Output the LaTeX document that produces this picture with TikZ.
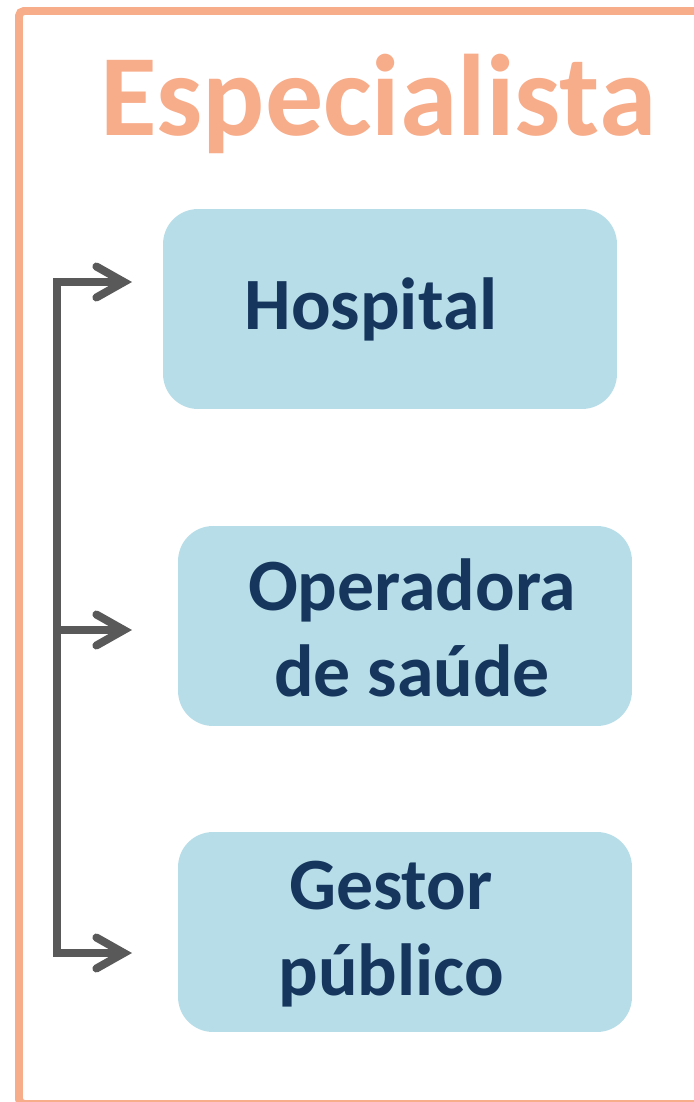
\documentclass[tikz,border=0pt]{standalone}
\usepackage{fontspec}
\setmainfont{Carlito}
\usetikzlibrary{arrows.meta}
\usetikzlibrary{positioning}
\definecolor{framecol}{HTML}{F7AC8A}
\definecolor{boxcol}{HTML}{B7DDE8}
\definecolor{textcol}{HTML}{17365D}
\definecolor{linecol}{HTML}{595959}
\tikzset{
  rolebox/.style= {
    rectangle,
    rounded corners = 0.7cm,
    fill = boxcol,
    minimum width = 9.08cm,
    minimum height = 4cm,
    inner sep = 0pt
  },
  roletext/.style= {
    text = textcol,
    font = \fontsize{42}{49}\selectfont\bfseries,
    align = center,
    inner sep = 0pt
  },
  heading/.style= {
    text = framecol,
    font = \fontsize{66}{70}\selectfont\bfseries,
    inner sep = 0pt
  },
  frame/.style= {
    draw = framecol,
    line width = 0.16cm,
    rounded corners = 0.1cm
  },
  flow/.style= {
    draw = linecol,
    line width = 0.16cm,
    line join = miter,
    -{Straight Barb[length=0.55cm, width=0.62cm, line cap=round]}
  }
}
\begin{document}
\begin{tikzpicture}[x=0.02cm, y=-0.02cm]
  \useasboundingbox (0,0) rectangle (693,1102);
  \draw[frame] (19,11) rectangle (740,1104);

  \node[heading, anchor=base] (title) at (378,135) {Especialista};

  \node[rolebox] (hosp) at (390,309) {};
  \node[rolebox] (oper) at (405,626) {};
  \node[rolebox] (gest) at (405,932) {};

  \node[roletext] (hosptext) at (371,309) {Hospital};
  \node[roletext] (opertext) at (412,628) {Operadora\\de saúde};
  \node[roletext] (gesttext) at (391,934) {Gestor\\público};

  % trunk and branches
  \coordinate (t1) at (57,282);
  \coordinate (t2) at (57,630);
  \coordinate (t3) at (57,953);
  \coordinate (a1) at (132,282);
  \coordinate (a2) at (132,630);
  \coordinate (a3) at (132,953);

  \draw[flow] (t2) -- (t1) -- (a1);
  \draw[flow] (t2) -- (a2);
  \draw[flow] (t2) -- (t3) -- (a3);
\end{tikzpicture}
\end{document}
